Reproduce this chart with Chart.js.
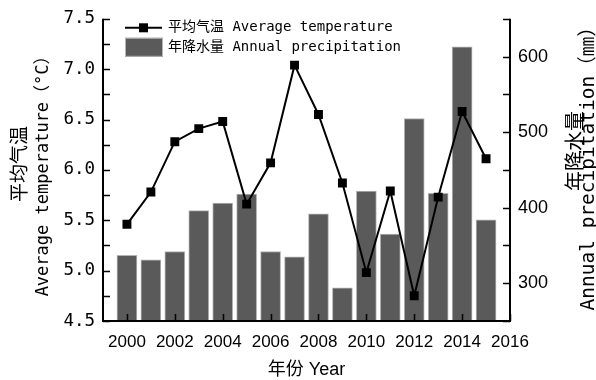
<!DOCTYPE html>
<html>
<head>
<meta charset="utf-8">
<script src="https://cdn.jsdelivr.net/npm/chart.js@4.4.1/dist/chart.umd.min.js"></script>
<style>
  html, body { margin: 0; padding: 0; background: #fff; }
  #wrap { width: 596px; height: 380px; }
</style>
</head>
<body>
<div id="wrap"><canvas id="chart" width="596" height="380"></canvas></div>
<script>
// Data
const years = [2000, 2001, 2002, 2003, 2004, 2005, 2006, 2007, 2008, 2009, 2010, 2011, 2012, 2013, 2014, 2015];
const temperature = [5.46, 5.78, 6.28, 6.41, 6.48, 5.66, 6.07, 7.04, 6.55, 5.87, 4.98, 5.79, 4.75, 5.73, 6.58, 6.11];
const precipitation = [337, 331, 342, 396, 406, 418, 342, 335, 392, 294, 422, 365, 518, 419, 613, 384];
const yearTicks = [2000, 2002, 2004, 2006, 2008, 2010, 2012, 2014, 2016];
const tempTicks = [4.5, 5.0, 5.5, 6.0, 6.5, 7.0, 7.5];
const precipTicks = [300, 400, 500, 600];

const cjk = "'Noto Sans CJK SC'";
const mono = "'DejaVu Sans Mono', " + cjk;
const sans = "'Liberation Sans', Arial, " + cjk;

// Inward tick marks + axis lines drawn over the bars
const axisPlugin = {
  id: 'axisPlugin',
  afterDatasetsDraw(chart) {
    const { ctx, chartArea: a, scales } = chart;
    const len = 7;
    ctx.save();
    ctx.strokeStyle = '#000';
    ctx.lineWidth = 1.5;
    ctx.beginPath();
    for (let v = scales.y.min; v <= scales.y.max + 1e-9; v += 0.25) {
      const py = Math.round(scales.y.getPixelForValue(v)) + 0.5;
      ctx.moveTo(a.left, py); ctx.lineTo(a.left + len, py);
    }
    for (let v = scales.y1.min; v <= scales.y1.max + 1e-9; v += 50) {
      const py = Math.round(scales.y1.getPixelForValue(v)) + 0.5;
      ctx.moveTo(a.right, py); ctx.lineTo(a.right - len, py);
    }
    yearTicks.forEach(v => {
      const px = Math.round(scales.x.getPixelForValue(v)) + 0.5;
      ctx.moveTo(px, a.bottom); ctx.lineTo(px, a.bottom - len);
    });
    ctx.stroke();
    ctx.lineWidth = 2;
    ctx.beginPath();
    ctx.moveTo(a.left, a.top); ctx.lineTo(a.left, a.bottom);
    ctx.lineTo(a.right, a.bottom); ctx.lineTo(a.right, a.top);
    ctx.stroke();
    ctx.restore();
  }
};

// Legend inside the plot + axis titles
const textPlugin = {
  id: 'textPlugin',
  afterDraw(chart) {
    const { ctx, chartArea: a } = chart;
    const lineDs = chart.data.datasets[0];
    const barDs = chart.data.datasets[1];
    const lx = a.left + 22;
    const ly = a.top + 9;
    ctx.save();
    // line entry
    ctx.strokeStyle = lineDs.borderColor;
    ctx.lineWidth = 2;
    ctx.beginPath();
    ctx.moveTo(lx, ly); ctx.lineTo(lx + 37, ly);
    ctx.stroke();
    ctx.fillStyle = lineDs.pointBackgroundColor;
    ctx.fillRect(lx + 18.5 - 4.5, ly - 4.5, 9, 9);
    // bar entry
    ctx.fillStyle = barDs.backgroundColor;
    ctx.fillRect(lx, ly + 10, 38, 19);
    ctx.strokeStyle = barDs.borderColor;
    ctx.lineWidth = 1;
    ctx.strokeRect(lx + 0.5, ly + 10.5, 37, 18);

    ctx.fillStyle = '#000';
    ctx.textBaseline = 'middle';
    ctx.textAlign = 'left';
    ctx.font = '14px ' + mono;
    ctx.fillText(lineDs.label, lx + 43, ly);
    ctx.fillText(barDs.label, lx + 43, ly + 20);

    // x title
    ctx.textAlign = 'center';
    ctx.font = '18px ' + sans;
    ctx.fillText('年份 Year', (a.left + a.right) / 2, 370);

    // left titles
    const cy = (a.top + a.bottom) / 2;
    ctx.save();
    ctx.translate(19, cy - 6);
    ctx.rotate(-Math.PI / 2);
    ctx.font = '19px ' + cjk;
    ctx.fillText('平均气温', 0, 0);
    ctx.restore();
    ctx.save();
    ctx.translate(44, cy + 2);
    ctx.rotate(-Math.PI / 2);
    ctx.font = '17px ' + mono;
    ctx.fillText('Average temperature（°C）', 0, 0);
    ctx.restore();

    // right titles
    ctx.save();
    ctx.translate(574, cy - 19);
    ctx.rotate(-Math.PI / 2);
    ctx.font = '20px ' + cjk;
    ctx.fillText('年降水量', 0, 0);
    ctx.restore();
    ctx.save();
    ctx.translate(589, cy - 6);
    ctx.rotate(-Math.PI / 2);
    ctx.font = '19.5px ' + mono;
    ctx.fillText('Annual precipitation（㎜）', 0, 0);
    ctx.restore();

    ctx.restore();
  }
};

new Chart(document.getElementById('chart'), {
  type: 'bar',
  data: {
    datasets: [{
      type: 'line',
      label: '平均气温 Average temperature',
      data: years.map((yr, i) => ({ x: yr, y: temperature[i] })),
      yAxisID: 'y',
      borderColor: '#000',
      borderWidth: 2,
      pointStyle: 'rect',
      pointRadius: 6.3,
      pointBackgroundColor: '#000',
      pointBorderColor: '#000',
      pointBorderWidth: 0,
      tension: 0,
      order: 0
    }, {
      type: 'bar',
      label: '年降水量 Annual precipitation',
      data: years.map((yr, i) => ({ x: yr, y: precipitation[i] })),
      yAxisID: 'y1',
      backgroundColor: '#5a5a5a',
      borderColor: '#b4b4b4',
      borderWidth: 1,
      barThickness: 20,
      order: 1
    }]
  },
  options: {
    responsive: false,
    animation: false,
    layout: { padding: { top: 14, left: 0, right: 0, bottom: 0 } },
    plugins: {
      legend: { display: false },
      tooltip: { enabled: false }
    },
    scales: {
      x: {
        type: 'linear',
        min: 1999,
        max: 2016,
        offset: false,
        afterBuildTicks: s => { s.ticks = yearTicks.map(v => ({ value: v })); },
        afterFit: s => { s.height = 59; },
        grid: { display: false, drawTicks: false, offset: false },
        border: { display: false },
        ticks: {
          color: '#000',
          padding: 11,
          maxRotation: 0,
          autoSkip: false,
          font: { family: sans, size: 17 },
          callback: v => String(v)
        }
      },
      y: {
        position: 'left',
        min: 4.5,
        max: 7.5,
        afterBuildTicks: s => { s.ticks = tempTicks.map(v => ({ value: v })); },
        afterFit: s => { s.width = 103; },
        grid: { display: false, drawTicks: false },
        border: { display: false },
        ticks: {
          color: '#000',
          padding: 8,
          font: { family: mono, size: 17.5 },
          callback: v => v.toFixed(1)
        }
      },
      y1: {
        position: 'right',
        min: 250,
        max: 650,
        beginAtZero: false,
        afterBuildTicks: s => { s.ticks = precipTicks.map(v => ({ value: v })); },
        afterFit: s => { s.width = 86; },
        grid: { display: false, drawTicks: false },
        border: { display: false },
        ticks: {
          color: '#000',
          padding: 8,
          font: { family: sans, size: 18 },
          callback: v => String(v)
        }
      }
    }
  },
  plugins: [axisPlugin, textPlugin]
});
</script>
</body>
</html>
